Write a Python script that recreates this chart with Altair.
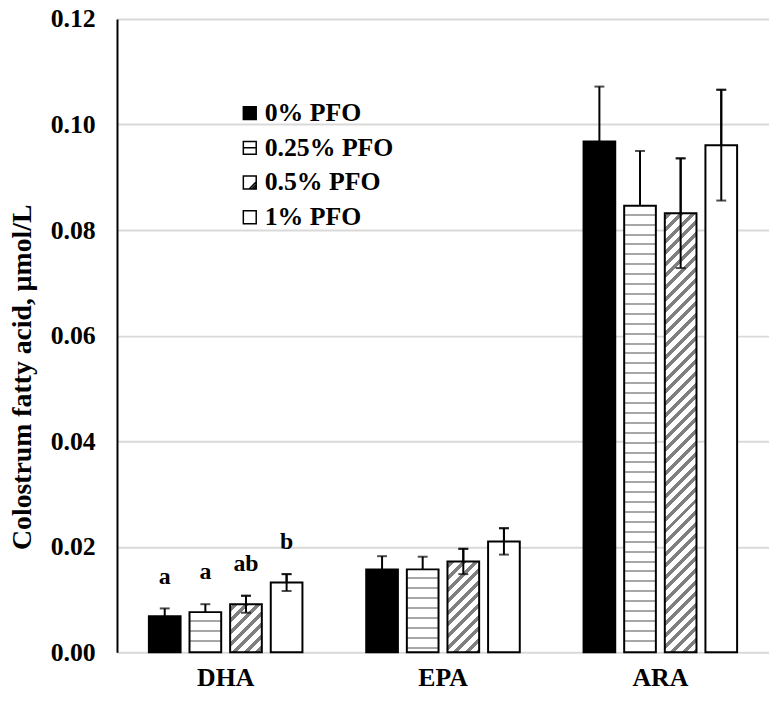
import altair as alt

# ---------------- data ----------------
acids = ["DHA", "EPA", "ARA"]
series = ["0% PFO", "0.25% PFO", "0.5% PFO", "1% PFO"]

pfo_0 = [0.0068, 0.0157, 0.0968]
pfo_025 = [0.0076, 0.0157, 0.0846]
pfo_05 = [0.0091, 0.0172, 0.0832]
pfo_1 = [0.0132, 0.0210, 0.0961]

err_0 = [0.0015, 0.0025, 0.0104]
err_025 = [0.0015, 0.0024, 0.0104]
err_05 = [0.0016, 0.0024, 0.0104]
err_1 = [0.0016, 0.0025, 0.0105]

sig_dha = ["a", "a", "ab", "b"]

y_ticks = [0, 0.02, 0.04, 0.06, 0.08, 0.10, 0.12]

# ---------------- layout / style ----------------
FONT = "Liberation Serif"
PLOT_W = 658
PLOT_H = 639
Y_MAX = 0.12
PAD_INNER = 0.22
PAD_OUTER = 0.785
band = PLOT_W / len(acids)
sub_step = band / (len(series) - PAD_INNER + 2 * PAD_OUTER)
BAR_W = sub_step * (1 - PAD_INNER)
PX_PER_UNIT = PLOT_H / Y_MAX


def h_stripes(h, period=10.0, thick=2.0, first=8.0, color="#a6a6a6"):
    stops = [{"offset": 0, "color": "white"}]
    y = first
    while y + thick < h - 1:
        a, b = y / h, (y + thick) / h
        stops += [{"offset": a, "color": "white"}, {"offset": a, "color": color},
                  {"offset": b, "color": color}, {"offset": b, "color": "white"}]
        y += period
    stops.append({"offset": 1, "color": "white"})
    return {"gradient": "linear", "x1": 0, "y1": 0, "x2": 0, "y2": 1, "stops": stops}


def d_stripes(w, h, period=11.7, thick=5.0, color="#7f7f7f"):
    length = w + h
    s = length / (w * w + h * h)
    stops = [{"offset": 0, "color": "white"}]
    u = 3.0
    while u < length:
        a, b = u / length, min((u + thick) / length, 1.0)
        stops += [{"offset": a, "color": "white"}, {"offset": a, "color": color},
                  {"offset": b, "color": color}, {"offset": b, "color": "white"}]
        u += period
    stops.append({"offset": 1, "color": "white"})
    return {"gradient": "linear", "x1": 0, "y1": 0, "x2": w * s, "y2": h * s, "stops": stops}


vals = [pfo_0, pfo_025, pfo_05, pfo_1]
errs = [err_0, err_025, err_05, err_1]

records = []
for si, sname in enumerate(series):
    for ai, acid in enumerate(acids):
        v = vals[si][ai]
        e = errs[si][ai]
        hpx = v * PX_PER_UNIT
        if si == 0:
            fill = "black"
        elif si == 1:
            fill = h_stripes(hpx)
        elif si == 2:
            fill = d_stripes(BAR_W, hpx)
        else:
            fill = "white"
        records.append({
            "acid": acid, "series": sname, "value": v,
            "lo": v - e, "hi": v + e, "mid": v / 2,
            "fill": fill, "front": si >= 2,
            "sig": sig_dha[si] if acid == "DHA" else "",
        })

data = alt.Data(values=records)

x_enc = alt.X("acid:N", sort=acids,
              scale=alt.Scale(paddingInner=0, paddingOuter=0),
              axis=alt.Axis(title=None, labelAngle=0, domain=False, ticks=False, tickSize=0,
                            labelFont=FONT, labelFontSize=26, labelFontWeight="bold",
                            labelColor="black", labelPadding=13))
xo_enc = alt.XOffset("series:N", sort=series,
                     scale=alt.Scale(paddingInner=PAD_INNER, paddingOuter=PAD_OUTER))
y_axis = alt.Axis(values=y_ticks, format=".2f", title="Colostrum fatty acid, μmol/L",
                  domain=True, domainColor="black", domainWidth=2,
                  ticks=False, tickSize=0, grid=True, gridColor="#d9d9d9", gridWidth=2,
                  labelFont=FONT, labelFontSize=26, labelFontWeight="bold", labelColor="black",
                  labelPadding=22, titleFont=FONT, titleFontSize=28, titleFontWeight="bold",
                  titleColor="black", titleAngle=-90, titleAlign="center",
                  titleBaseline="alphabetic", titleX=-87, titleY=361)
y_scale = alt.Scale(domain=[0, Y_MAX], nice=False, zero=True)

base = alt.Chart(data)

legend_kw = dict(title=None, orient="none", legendX=121, legendY=82,
                 labelFont=FONT, labelFontSize=26, labelFontWeight="bold",
                 labelColor="black", labelOffset=2, rowPadding=9, padding=0,
                 symbolSize=169, symbolStrokeColor="black", symbolStrokeWidth=1.5,
                 labelLimit=0)

# points hidden behind the bars; they carry the legend
legend_pts = base.mark_point(filled=True, stroke="black", strokeWidth=1.5, size=169, opacity=1).encode(
    x=x_enc, xOffset=xo_enc,
    y=alt.Y("mid:Q", scale=y_scale, axis=y_axis),
    color=alt.Color("series:N", sort=series,
                    scale=alt.Scale(domain=series, range=["black", "white", "white", "white"]),
                    legend=alt.Legend(**legend_kw)),
    shape=alt.Shape("series:N", sort=series,
                    scale=alt.Scale(domain=series, range=[
                        "square",
                        "M-1,-1H1V1H-1Z M-1,0H1",
                        "M-1,-1H1V1H-1Z M1,-0.1L-0.1,1 M1,0.3L0.3,1 M1,0.65L0.65,1",
                        "square"]),
                    legend=alt.Legend(**legend_kw)),
)

err_back = base.mark_rule(color="black", strokeWidth=2).encode(
    x=x_enc, xOffset=xo_enc, y=alt.Y("lo:Q", scale=y_scale), y2="hi:Q")
cap_back = base.mark_tick(color="black", size=10, thickness=2).encode(
    x=x_enc, xOffset=xo_enc, y=alt.Y("hi:Q", scale=y_scale))

bars = base.mark_bar(stroke="black", strokeWidth=2).encode(
    x=x_enc, xOffset=xo_enc,
    y=alt.Y("value:Q", scale=y_scale, stack=None),
    fill=alt.Fill("fill:N", scale=None, legend=None),
)

front = base.transform_filter("datum.front")
err_front = front.mark_rule(color="black", strokeWidth=2).encode(
    x=x_enc, xOffset=xo_enc, y=alt.Y("lo:Q", scale=y_scale), y2="hi:Q")
cap_front_lo = front.mark_tick(color="black", size=10, thickness=2).encode(
    x=x_enc, xOffset=xo_enc, y=alt.Y("lo:Q", scale=y_scale))
cap_front_hi = front.mark_tick(color="black", size=10, thickness=2).encode(
    x=x_enc, xOffset=xo_enc, y=alt.Y("hi:Q", scale=y_scale))

sig_text = base.mark_text(font=FONT, fontSize=24, fontWeight="bold", color="black",
                          baseline="alphabetic", dy=-25).encode(
    x=x_enc, xOffset=xo_enc, y=alt.Y("hi:Q", scale=y_scale), text="sig:N")

chart = alt.layer(legend_pts, err_back, cap_back, bars, err_front, cap_front_lo, cap_front_hi, sig_text).properties(
    width=PLOT_W, height=PLOT_H,
    autosize=alt.AutoSizeParams(type="none"),
    padding={"left": 110, "top": 8, "right": 0, "bottom": 37},
).configure_view(stroke=None)

chart.save("out.html", embed_options={"renderer": "svg", "actions": False})
